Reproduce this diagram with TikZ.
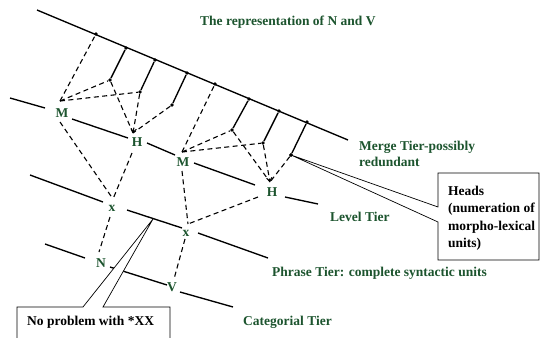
\documentclass[tikz,border=0pt]{standalone}
\usepackage{fontspec}
\setmainfont{Liberation Serif}
\usetikzlibrary{arrows.meta}
\definecolor{tiergreen}{RGB}{28,84,46}
\begin{document}
\begin{tikzpicture}[x=1pt,y=-1pt,
  tier/.style={line width=1.35pt},
  stemline/.style={line width=1.35pt},
  link/.style={line width=1.1pt, dash pattern=on 5pt off 3.5pt},
  headlink/.style={link, -{Straight Barb[length=3.5pt,width=5.5pt,line width=1pt]}},
  knot/.style={circle, fill=black, inner sep=0pt, minimum size=3.8pt},
  lettr/.style={text=tiergreen, font=\fontsize{13.5}{16}\selectfont\bfseries, inner sep=1pt},
  tiername/.style={text=tiergreen, font=\fontsize{13.5}{15.5}\selectfont\bfseries,
    anchor=base west, inner sep=0pt, align=left},
  notetext/.style={font=\fontsize{13.5}{17.5}\selectfont\bfseries,
    anchor=base west, inner sep=0pt, align=left},
  balloon/.style={draw, line width=0.7pt, fill=white}
]
\useasboundingbox (0,0) rectangle (542,338);

% ---- merge tier with its attachment points ----
\coordinate (mt-a) at (37,10);
\coordinate (mt-b) at (348,140);
\draw[tier] (mt-a) -- (mt-b);

\node[knot] (d1) at (96,34) {};
\node[knot] (d2) at (126,48) {};
\node[knot] (d3) at (155,60) {};
\node[knot] (d4) at (187,73) {};
\node[knot] (d5) at (215,84) {};
\node[knot] (d6) at (249,99) {};
\node[knot] (d7) at (279,111) {};
\node[knot] (d8) at (307,122) {};

\node[knot] (e1) at (110,80) {};
\node[knot] (e2) at (140,92) {};
\node[knot] (e3) at (172,105) {};
\node[knot] (e4) at (232,130) {};
\node[knot] (e5) at (263,143) {};
\node[knot] (e6) at (291,155) {};

\draw[stemline] (d2) -- (e1);
\draw[stemline] (d3) -- (e2);
\draw[stemline] (d4) -- (e3);
\draw[stemline] (d6) -- (e4);
\draw[stemline] (d7) -- (e5);
\draw[stemline] (d8) -- (e6);

% ---- units on the lower tiers ----
\node[lettr] (M1) at (62,113) {M};
\node[lettr] (H1) at (137,142) {H};
\node[lettr] (M2) at (183,162) {M};
\node[lettr] (H2) at (272,192) {H};
\node[lettr] (x1) at (112,208) {x};
\node[lettr] (x2) at (186,233) {x};
\node[lettr] (N)  at (101,263) {N};
\node[lettr] (V)  at (172,287) {V};

% entry and exit points of the dashed links
\coordinate (M1-in) at (60,101);  \coordinate (M1-out) at (60,122);
\coordinate (H1-in) at (133,133); \coordinate (H1-out) at (132,153);
\coordinate (M2-in) at (182,152); \coordinate (M2-out) at (182,171);
\coordinate (H2-in) at (270,182); \coordinate (H2-out) at (258,197);
\coordinate (x1-in) at (113,199); \coordinate (x1-out) at (110,217);
\coordinate (x2-in) at (188,224); \coordinate (x2-out) at (185,239);
\coordinate (N-in)  at (99,252);
\coordinate (V-in)  at (174,279);

% ---- level tier ----
\coordinate (lv1) at (10,98);   \coordinate (lv2) at (45,108);
\coordinate (lv3) at (72,119);  \coordinate (lv4) at (128,138);
\coordinate (lv5) at (147,143); \coordinate (lv6) at (175,155);
\coordinate (lv7) at (194,163); \coordinate (lv8) at (255,185);
\coordinate (lv9) at (285,197); \coordinate (lv10) at (318,204);
\draw[tier] (lv1) -- (lv2) (lv3) -- (lv4) (lv5) -- (lv6)
            (lv7) -- (lv8) (lv9) -- (lv10);

% ---- phrase tier ----
\coordinate (ph1) at (30,175);  \coordinate (ph2) at (103,202);
\coordinate (ph3) at (127,210); \coordinate (ph4) at (182,228);
\coordinate (ph5) at (198,233); \coordinate (ph6) at (268,258);
\draw[tier] (ph1) -- (ph2) (ph3) -- (ph4) (ph5) -- (ph6);

% ---- categorial tier ----
\coordinate (ct1) at (45,244);  \coordinate (ct2) at (85,258);
\coordinate (ct3) at (110,267); \coordinate (ct4) at (167,285);
\coordinate (ct5) at (180,292); \coordinate (ct6) at (233,307);
\draw[tier] (ct1) -- (ct2) (ct3) -- (ct4) (ct5) -- (ct6);

% ---- dashed links ----
\draw[link] (M1-in) -- (d1);
\draw[link] (M1-in) -- (e1);
\draw[link] (M1-in) -- (e2);
\draw[link] (e1) -- (H1-in);
\draw[headlink] (e2) -- (H1-in);
\draw[link] (e3) -- (H1-in);

\draw[link] (M2-in) -- (d5);
\draw[link] (M2-in) -- (e4);
\draw[link] (M2-in) -- (e5);
\draw[link] (e4) -- (H2-in);
\draw[headlink] (e5) -- (H2-in);
\draw[link] (e6) -- (H2-in);

\draw[link] (M1-out) -- (x1-in);
\draw[link] (H1-out) -- (x1-in);
\draw[link] (x1-out) -- (N-in);
\draw[link] (M2-out) -- (x2-in);
\draw[link] (H2-out) -- (x2-in);
\draw[link] (x2-out) -- (V-in);

% ---- callouts ----
\coordinate (np-tip) at (153,219);
\draw[balloon] (17,342) -- (17,307) -- (83,307) -- (np-tip) -- (103,307)
               -- (170,307) -- (170,342);
\node[notetext] (np) at (27,325) {No problem with *XX};

\draw[balloon] (438,207) -- (e6.center) -- (438,222) -- (438,260)
               -- (539,260) -- (539,173) -- (438,173) -- cycle;
\node[knot] at (e6) {};
% base anchor of a multi-line node is the baseline of its last line
\node[notetext] (hd) at (448,247.5)
  {Heads\\(numeration of\\morpho-lexical\\units)};

% ---- tier names ----
\node[tiername] (title) at (200,25) {The representation of N and V};
\node[tiername] (mergename) at (359,166) {Merge Tier-possibly\\redundant};
\node[tiername] (levelname) at (330,221.5) {Level Tier};
\node[tiername] (phrasename) at (272,276.5) {Phrase Tier: complete syntactic units};
\node[tiername] (catname) at (243,325) {Categorial Tier};
\end{tikzpicture}
\end{document}
